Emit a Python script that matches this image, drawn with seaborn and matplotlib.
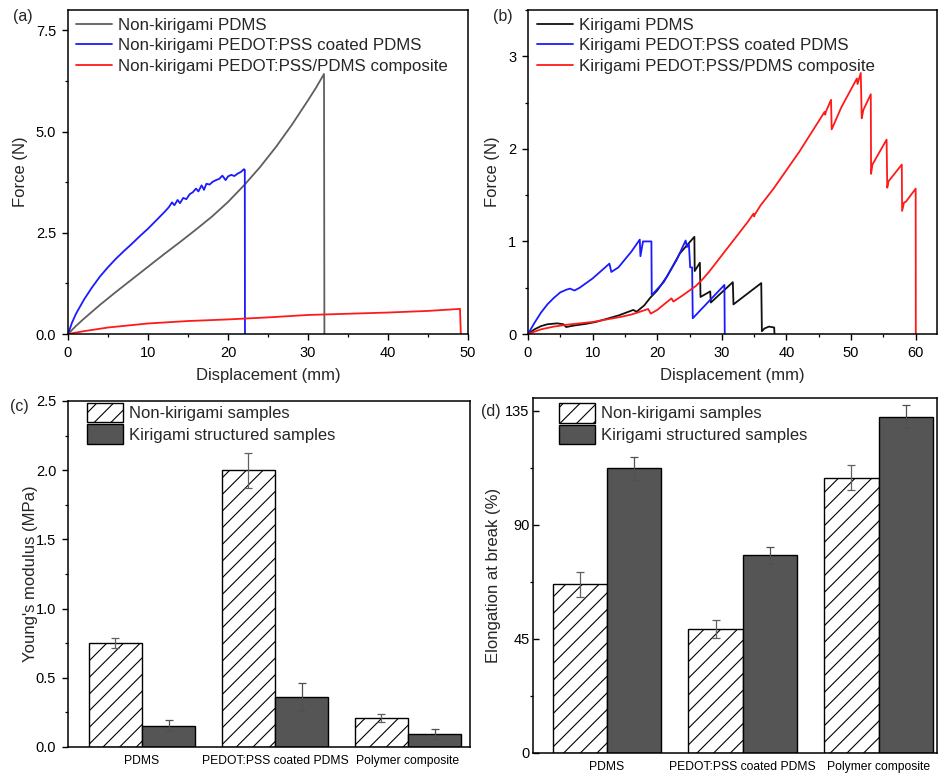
import matplotlib
matplotlib.use('Agg')
import numpy as np
import pandas as pd
import seaborn as sns
import matplotlib.pyplot as plt
from matplotlib.patches import Patch
from matplotlib.ticker import MultipleLocator, FormatStrFormatter

# ---------------- data ----------------
# (a) non-kirigami force-displacement
a_pdms_x = [0, 1, 2, 4, 6, 8, 10, 12, 14, 16, 18, 20, 22, 24, 26, 28, 30, 31, 32, 32.05]
a_pdms_y = [0, 0.20, 0.38, 0.72, 1.04, 1.35, 1.66, 1.97, 2.27, 2.58, 2.90, 3.26, 3.67, 4.12,
            4.62, 5.17, 5.77, 6.08, 6.42, 0]

a_coat_x = [0, 0.5, 1, 2, 3, 4, 5, 6, 7, 8, 9, 10, 11, 12, 12.6, 13.0, 13.3, 13.7, 14.0, 14.4,
            14.8, 15.2, 15.6, 16.0, 16.3, 16.7, 17.0, 17.3, 17.7, 18.1, 18.5, 18.9, 19.3, 19.7,
            20.0, 20.4, 20.8, 21.2, 21.6, 22.0, 22.1, 22.12]
a_coat_y = [0, 0.28, 0.50, 0.85, 1.15, 1.42, 1.65, 1.86, 2.05, 2.23, 2.42, 2.60, 2.80, 3.00,
            3.13, 3.25, 3.18, 3.31, 3.23, 3.36, 3.33, 3.45, 3.50, 3.59, 3.52, 3.67, 3.56, 3.71,
            3.69, 3.76, 3.80, 3.83, 3.91, 3.80, 3.89, 3.93, 3.90, 3.96, 4.00, 4.07, 4.05, 0]

a_comp_x = [0, 2, 5, 10, 15, 20, 25, 30, 35, 40, 45, 49.0, 49.1]
a_comp_y = [0, 0.07, 0.16, 0.26, 0.32, 0.36, 0.41, 0.47, 0.50, 0.53, 0.57, 0.62, 0]

# (b) kirigami force-displacement
b_pdms_x = [0, 1, 2, 3, 4.5, 5.5, 5.9, 7, 9, 10.5, 12, 14, 16.3, 16.8, 18, 18.9, 20, 21.5,
            23.5, 25.75, 25.8, 26.6, 26.7, 28.2, 28.3, 31.7, 31.8, 36.1, 36.2, 36.6, 37.3,
            38.1, 38.15]
b_pdms_y = [0, 0.05, 0.085, 0.105, 0.115, 0.105, 0.075, 0.09, 0.11, 0.13, 0.16, 0.20, 0.26,
            0.24, 0.31, 0.39, 0.47, 0.62, 0.87, 1.05, 0.68, 0.77, 0.40, 0.46, 0.34, 0.56,
            0.32, 0.55, 0.03, 0.06, 0.08, 0.07, 0]

b_coat_x = [0, 1, 2, 3, 4, 5, 6, 6.5, 7.2, 8, 10, 12.6, 12.9, 14, 16, 17.3, 17.4, 17.8, 19.1,
            19.15, 21, 23, 24.4, 24.6, 24.9, 25.1, 25.4, 25.5, 30.4, 30.45]
b_coat_y = [0, 0.12, 0.23, 0.32, 0.39, 0.45, 0.48, 0.49, 0.47, 0.50, 0.60, 0.76, 0.67, 0.72,
            0.89, 1.02, 0.84, 1.00, 1.00, 0.42, 0.56, 0.80, 1.01, 0.94, 0.97, 0.72, 0.72,
            0.17, 0.53, 0]

b_comp_x = [0, 2, 4, 6, 8, 10, 12, 14, 16, 18.6, 19.0, 20, 22.2, 22.5, 24, 25, 26, 27, 28,
            29, 30, 31, 32, 33, 34, 34.9, 35.0, 35.1, 36, 37, 38, 39, 40, 41, 42, 43, 44, 45,
            45.9, 46.0, 46.1, 46.9, 47.0, 48.5, 50.9, 51.0, 51.5, 51.65, 51.9, 53.05, 53.1,
            53.3, 55.5, 55.6, 55.8, 57.85, 57.9, 58.2, 58.5, 60.0, 60.02]
b_comp_y = [0, 0.05, 0.08, 0.10, 0.115, 0.13, 0.155, 0.18, 0.21, 0.27, 0.22, 0.26, 0.385,
            0.35, 0.42, 0.47, 0.52, 0.59, 0.67, 0.76, 0.85, 0.94, 1.03, 1.12, 1.21, 1.30,
            1.27, 1.29, 1.39, 1.48, 1.57, 1.67, 1.77, 1.87, 1.97, 2.08, 2.19, 2.30, 2.40,
            2.37, 2.40, 2.53, 2.21, 2.45, 2.76, 2.70, 2.82, 2.33, 2.42, 2.59, 1.73, 1.83,
            2.10, 1.58, 1.65, 1.83, 1.33, 1.42, 1.43, 1.57, 0]

# (c), (d) bar data
categories = ['PDMS', 'PEDOT:PSS coated PDMS', 'Polymer composite']
groups = ['Non-kirigami samples', 'Kirigami structured samples']
modulus_non = [0.75, 2.00, 0.21]
modulus_non_err = [0.036, 0.125, 0.028]
modulus_kir = [0.155, 0.36, 0.095]
modulus_kir_err = [0.04, 0.10, 0.034]
elong_non = [66.5, 48.8, 108.6]
elong_non_err = [5.0, 3.5, 5.0]
elong_kir = [112.2, 78.0, 132.6]
elong_kir_err = [4.5, 3.3, 4.5]

# ---------------- style ----------------
sns.set_style('ticks')
plt.rcParams['font.family'] = ['Liberation Sans', 'DejaVu Sans']
plt.rcParams['hatch.linewidth'] = 0.8
plt.rcParams['axes.linewidth'] = 1.1

W, H = 938, 773
fig = plt.figure(figsize=(W / 100, H / 100), dpi=100)
axA = fig.add_axes([68 / W, 1 - 334 / H, 400 / W, 324 / H])
axB = fig.add_axes([528 / W, 1 - 334 / H, 409 / W, 324 / H])
axC = fig.add_axes([68 / W, 1 - 747 / H, 402 / W, 346 / H])
axD = fig.add_axes([533 / W, 1 - 753 / H, 404 / W, 355 / H])

def style_axis(ax):
    for s in ax.spines.values():
        s.set_color('black')
    ax.tick_params(which='major', direction='out', length=4.5, width=1, labelsize=10.5,
                   colors='black', pad=4)
    ax.tick_params(which='minor', direction='out', length=2.5, width=0.9, colors='black')

def line(ax, x, y, color, label):
    sns.lineplot(x=x, y=y, sort=False, estimator=None, color=color, linewidth=1.3,
                 label=label, ax=ax)

# (a)
line(axA, a_pdms_x, a_pdms_y, '#5f5f5f', 'Non-kirigami PDMS')
line(axA, a_coat_x, a_coat_y, '#1a1aff', 'Non-kirigami PEDOT:PSS coated PDMS')
line(axA, a_comp_x, a_comp_y, '#ff1a1a', 'Non-kirigami PEDOT:PSS/PDMS composite')
axA.set_xlim(0, 50)
axA.set_ylim(0, 8.0)
axA.xaxis.set_major_locator(MultipleLocator(10))
axA.xaxis.set_minor_locator(MultipleLocator(5))
axA.yaxis.set_major_locator(MultipleLocator(2.5))
axA.yaxis.set_minor_locator(MultipleLocator(1.25))
axA.yaxis.set_major_formatter(FormatStrFormatter('%.1f'))

# (b)
line(axB, b_pdms_x, b_pdms_y, '#111111', 'Kirigami PDMS')
line(axB, b_coat_x, b_coat_y, '#1a1aff', 'Kirigami PEDOT:PSS coated PDMS')
line(axB, b_comp_x, b_comp_y, '#ff1a1a', 'Kirigami PEDOT:PSS/PDMS composite')
axB.set_xlim(0, 63.3)
axB.set_ylim(0, 3.5)
axB.xaxis.set_major_locator(MultipleLocator(10))
axB.xaxis.set_minor_locator(MultipleLocator(5))
axB.yaxis.set_major_locator(MultipleLocator(1))
axB.yaxis.set_minor_locator(MultipleLocator(0.5))

for ax, xa in ((axA, 0.02), (axB, 0.022)):
    style_axis(ax)
    ax.set_xlabel('Displacement (mm)', fontsize=12)
    ax.set_ylabel('Force (N)', fontsize=12)
    ax.xaxis.set_label_coords(0.5, -0.105)
    ax.legend(loc='upper left', bbox_to_anchor=(xa, 0.976), frameon=False, fontsize=12.2,
              handlelength=2.15, handletextpad=0.3, labelspacing=0.33, borderaxespad=0,
              borderpad=0)
axA.yaxis.set_label_coords(-0.10, 0.5)
axB.yaxis.set_label_coords(-0.068, 0.5)

# bars
def bars(ax, non, kir, non_err, kir_err):
    df = pd.DataFrame({'sample': categories * 2,
                       'value': non + kir,
                       'type': [groups[0]] * 3 + [groups[1]] * 3})
    sns.barplot(data=df, x='sample', y='value', hue='type', order=categories,
                hue_order=groups, palette=['white', '#555555'], saturation=1,
                width=0.8, errorbar=None, edgecolor='black', linewidth=1.0,
                legend=False, ax=ax)
    for b in ax.containers[0]:
        b.set_hatch('//')
        b.set_edgecolor('black')
    xs = np.arange(len(categories))
    ax.errorbar(xs - 0.2, non, yerr=non_err, fmt='none', ecolor='#606060',
                elinewidth=0.9, capsize=3, capthick=0.9)
    ax.errorbar(xs + 0.2, kir, yerr=kir_err, fmt='none', ecolor='#505050',
                elinewidth=0.9, capsize=3, capthick=0.9)
    style_axis(ax)
    ax.tick_params(axis='x', which='both', length=0, labelsize=8.7, pad=5.5)
    ax.set_xlabel('')
    handles = [Patch(facecolor='white', edgecolor='black', hatch='//', linewidth=1.0),
               Patch(facecolor='#555555', edgecolor='black', linewidth=1.0)]
    ax.legend(handles, groups, loc='upper left', frameon=False, fontsize=12.0,
              handlelength=2.15, handleheight=1.4, handletextpad=0.35, labelspacing=0.15,
              borderaxespad=0, borderpad=0)

bars(axC, modulus_non, modulus_kir, modulus_non_err, modulus_kir_err)
axC.set_xlim(-0.556, 2.466)
axC.set_ylim(0, 2.5)
axC.yaxis.set_major_locator(MultipleLocator(0.5))
axC.yaxis.set_minor_locator(MultipleLocator(0.25))
axC.set_ylabel("Young's modulus (MPa)", fontsize=12)
axC.yaxis.set_label_coords(-0.075, 0.5)
axC.get_legend().set_bbox_to_anchor((0.047, 0.995), transform=axC.transAxes)

bars(axD, elong_non, elong_kir, elong_non_err, elong_kir_err)
axD.set_xlim(-0.544, 2.43)
axD.set_ylim(0, 140)
axD.yaxis.set_major_locator(MultipleLocator(45))
axD.yaxis.set_minor_locator(MultipleLocator(22.5))
axD.tick_params(axis='y', which='major', direction='in', pad=2.5)
axD.set_ylabel('Elongation at break (%)', fontsize=12)
axD.yaxis.set_label_coords(-0.079, 0.5)
axD.get_legend().set_bbox_to_anchor((0.065, 0.985), transform=axD.transAxes)

# panel letters
for txt, x, y in (('(a)', 13, 9), ('(b)', 493, 9), ('(c)', 10, 399), ('(d)', 481, 404)):
    fig.text(x / W, 1 - y / H, txt, fontsize=11.5, va='top', ha='left')

fig.savefig('out.png', dpi=100)
